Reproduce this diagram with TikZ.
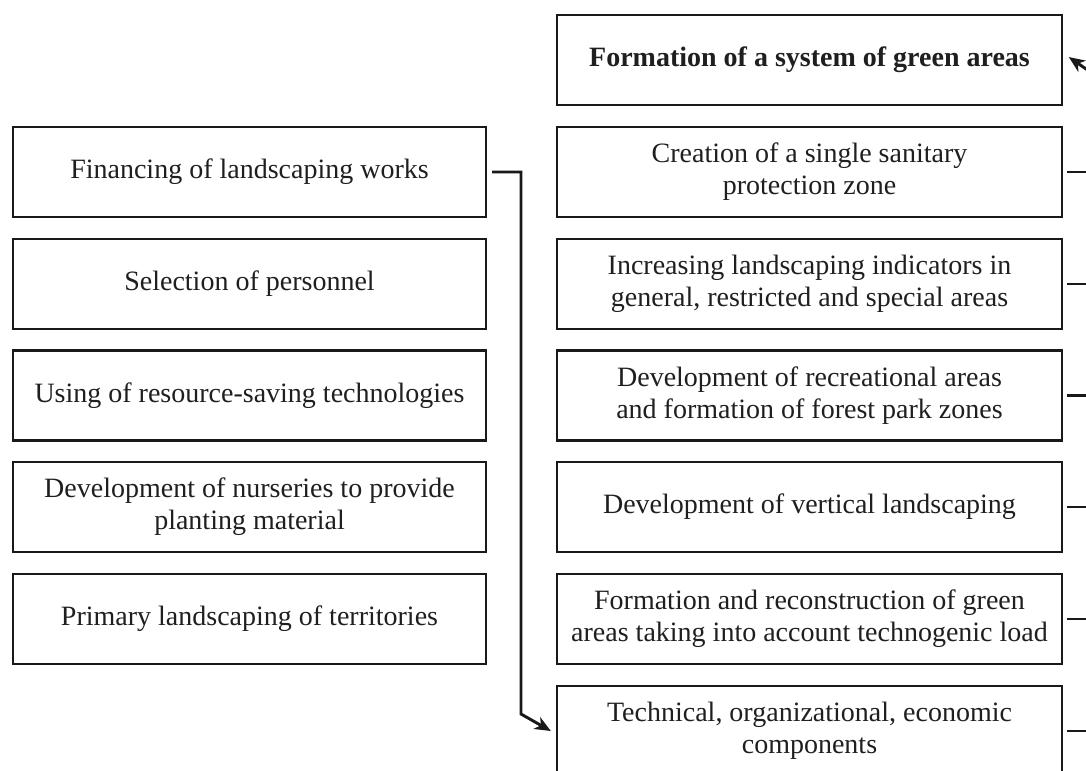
\documentclass[tikz,border=0pt]{standalone}
\usepackage{fontspec}
\setmainfont{Liberation Serif}
\usetikzlibrary{arrows.meta}
\begin{document}
\begin{tikzpicture}[x=0.75pt,y=-0.75pt,
  lbox/.style={draw=black!90,line width=2.2pt,rectangle,minimum width=473*0.75pt,minimum height=90*0.75pt,inner sep=0pt,align=center,font=\fontsize{21}{24}\selectfont,text=black!88},
  rbox/.style={lbox,minimum width=505*0.75pt},
  conn/.style={draw=black!90,line width=2.2pt},
  arr/.style={conn,-{Stealth[length=12pt,width=10pt,inset=3.5pt]}}]
\useasboundingbox (0,0) rectangle (1086,771);
\clip (0,0) rectangle (1086,771);
\fill[white] (0,0) rectangle (1086,771);
% left column
\node[lbox] (fin) at (249.5,172) {Financing of landscaping works};
\node[lbox] (sel) at (249.5,284) {Selection of personnel};
\node[lbox] (res) at (249.5,395.5) {Using of resource-saving technologies};
\node[lbox] (nur) at (249.5,507) {Development of nurseries to provide\\planting material};
\node[lbox] (pri) at (249.5,619) {Primary landscaping of territories};
% right column
\node[rbox] (top) at (809.5,60) {\bfseries Formation of a system of green areas};
\node[rbox] (san) at (809.5,172) {Creation of a single sanitary\\protection zone};
\node[rbox] (ind) at (809.5,284) {Increasing landscaping indicators in\\general, restricted and special areas};
\node[rbox] (rec) at (809.5,395.5) {Development of recreational areas\\and formation of forest park zones};
\node[rbox] (ver) at (809.5,507) {Development of vertical landscaping};
\node[rbox] (gre) at (809.5,619) {Formation and reconstruction of green\\areas taking into account technogenic load};
\node[rbox] (tec) at (809.5,731) {Technical, organizational, economic\\components};
% outer coordinates
\coordinate (edge) at (1090,0);
\coordinate (bend) at (521,714);
\coordinate (tail) at (1102,80);
% right stubs
\foreach \n in {san,ind,rec,ver,gre,tec}
  \draw[conn] ([xshift=2.5pt]\n.east) -- (\n.east -| edge);
% arrow into top box region
\draw[arr] (tail) -- ([xshift=4pt,yshift=2.2pt]top.east);
% financing to technical components
\draw[arr] ([xshift=3.5pt]fin.east) -| (bend) -- ([xshift=-3.5pt]tec.west);
\end{tikzpicture}
\end{document}
